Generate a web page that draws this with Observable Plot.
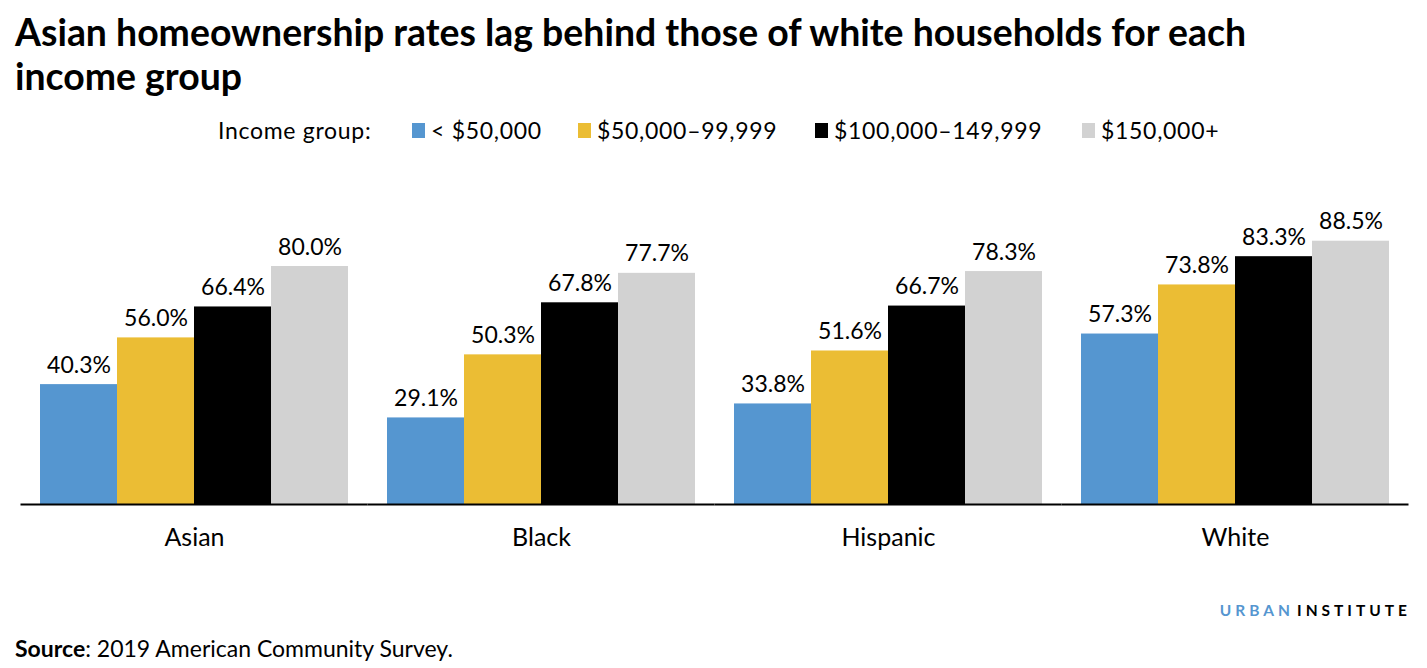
<!DOCTYPE html>
<html>
<head>
<meta charset="utf-8">
<script src="https://cdn.jsdelivr.net/npm/d3@7"></script>
<script src="https://cdn.jsdelivr.net/npm/@observablehq/plot@0.6"></script>
<style>
  html, body { margin: 0; padding: 0; background: #fff; }
  body { width: 1427px; height: 668px; position: relative; overflow: hidden; font-family: Lato, "Noto Sans", sans-serif; color: #000; }
  #title { position: absolute; left: 15px; top: 10px; width: 1300px; font-size: 37.4px; font-weight: 700; line-height: 44px; }
  #legend { position: absolute; left: 0; top: 115px; width: 1427px; height: 30px; font-size: 23px; letter-spacing: 0.7px; white-space: nowrap; }
  #legend > span { position: absolute; top: 0; line-height: 30px; }
  #legend .sw { width: 13px; height: 15px; top: 8px; }
  #chart { position: absolute; left: 0; top: 160px; }
  #logo { position: absolute; right: 16px; top: 601px; font-size: 15.5px; font-weight: 700; letter-spacing: 4px; }
  #logo .u { color: #5596d0; margin-right: 3px; }
  #source { position: absolute; left: 15px; top: 634px; font-size: 23px; }
</style>
</head>
<body>
<div id="title">Asian homeownership rates lag behind those of white households for each income group</div>
<div id="legend"></div>
<div id="chart"></div>
<div id="logo"><span class="u">URBAN</span>INSTITUTE</div>
<div id="source"><b>Source</b>: 2019 American Community Survey.</div>
<script>
const groups = ["Asian", "Black", "Hispanic", "White"];
const incomes = ["< $50,000", "$50,000–99,999", "$100,000–149,999", "$150,000+"];
const under50k = [40.3, 29.1, 33.8, 57.3];
const from50k = [56.0, 50.3, 51.6, 73.8];
const from100k = [66.4, 67.8, 66.7, 83.3];
const over150k = [80.0, 77.7, 78.3, 88.5];
const colors = ["#5596d0", "#ebbd34", "#000000", "#d2d2d2"];

const series = [under50k, from50k, from100k, over150k];
const data = [];
groups.forEach((g, gi) => {
  incomes.forEach((inc, ii) => {
    data.push({group: g, income: inc, value: series[ii][gi]});
  });
});

// legend (HTML, laid out like the original)
const legend = document.getElementById("legend");
const lab = document.createElement("span");
lab.textContent = "Income group:";
lab.style.left = "218px";
legend.appendChild(lab);
const swatchX = [412, 578, 815, 1082];
incomes.forEach((inc, i) => {
  const sw = document.createElement("span");
  sw.className = "sw";
  sw.style.background = colors[i];
  sw.style.left = swatchX[i] + "px";
  legend.appendChild(sw);
  const t = document.createElement("span");
  t.textContent = inc;
  t.style.left = (swatchX[i] + 19) + "px";
  legend.appendChild(t);
});

const chart = Plot.plot({
  width: 1427,
  height: 420,
  marginLeft: 20,
  marginRight: 18,
  marginTop: 46.5,
  marginBottom: 76,
  style: {fontFamily: "Lato, 'Noto Sans', sans-serif", color: "#000", background: "#fff"},
  fx: {domain: groups, paddingInner: 0.106, paddingOuter: 0.049, label: null},
  x: {domain: incomes, padding: 0, axis: null},
  y: {domain: [0, 100], axis: null},
  color: {domain: incomes, range: colors},
  marks: [
    Plot.barY(data, {fx: "group", x: "income", y: "value", fill: "income"}),
    Plot.text(data, {fx: "group", x: "income", y: "value", text: d => d.value.toFixed(1) + "%", dy: -12, lineAnchor: "bottom", fontSize: 23, fill: "#000"}),
    Plot.ruleY([0], {stroke: "#000", strokeWidth: 2, insetLeft: -18.5, insetRight: -18.5}),
    Plot.axisFx({anchor: "bottom", tickSize: 0, tickPadding: 24, fontSize: 25, label: null})
  ]
});
document.getElementById("chart").appendChild(chart);
</script>
</body>
</html>
